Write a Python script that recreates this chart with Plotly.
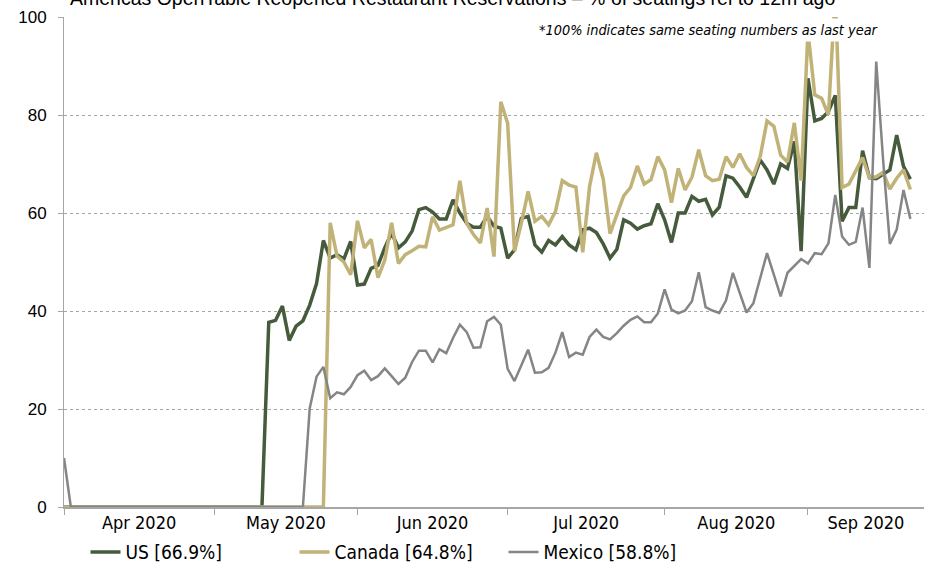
import pandas as pd
import plotly.graph_objects as go

# OpenTable seated diners vs same day last year, weekdays only (%)
START = "2020-04-01"

us = [0] * 30 + [
    37.7, 38.1, 41.0, 34.0, 36.9, 38.0, 41.2, 45.6, 54.4, 50.8,
    51.5, 50.6, 54.2, 45.3, 45.5, 48.7, 49.3, 52.9, 55.9, 52.9,
    54.1, 56.3, 60.7, 61.1, 60.2, 58.8, 58.8, 62.7, 60.0, 57.9,
    57.1, 57.1, 59.3, 57.3, 56.9, 50.8, 52.5, 58.9, 59.3, 53.5,
    52.0, 54.4, 53.5, 55.2, 53.5, 52.5, 56.6, 56.9, 56.0, 53.7,
    50.8, 52.6, 58.6, 57.9, 56.7, 57.4, 57.8, 61.9, 58.6, 54.0,
    60.0, 60.0, 63.4, 62.4, 62.8, 59.6, 61.2, 67.6, 67.1, 65.3,
    63.2, 66.8, 70.8, 68.8, 65.9, 70.0, 69.1, 74.6, 52.2, 87.5,
    78.8, 79.3, 80.7, 84.0, 58.3, 61.1, 61.1, 72.7, 67.2, 67.0,
    67.9, 68.8, 75.9, 69.5, 66.9,
]
canada = [0] * 39 + [
    58.0, 51.2, 50.0, 47.4, 58.4, 52.9, 54.6, 46.8, 50.4, 58.0,
    49.7, 51.5, 52.3, 53.2, 53.1, 59.2, 56.5, 57.1, 57.6, 66.6,
    57.9, 55.6, 53.9, 61.0, 51.1, 82.7, 78.3, 52.2, 57.9, 64.4,
    58.3, 59.3, 57.6, 60.3, 66.6, 65.7, 65.3, 52.0, 65.4, 72.3,
    66.9, 55.8, 59.6, 63.5, 65.2, 69.6, 65.9, 66.8, 71.5, 68.8,
    62.1, 69.1, 64.7, 67.3, 72.9, 67.6, 66.6, 66.9, 71.5, 69.3,
    72.1, 69.3, 67.6, 71.5, 78.8, 77.7, 71.8, 70.4, 78.4, 66.6,
    97.0, 84.1, 83.4, 80.0, 105.0, 65.2, 65.9, 68.6, 71.3, 67.2,
    67.4, 68.3, 64.9, 67.1, 68.8, 64.8,
]
mexico = [10.0] + [0] * 35 + [
    20.1, 26.6, 28.6, 22.2, 23.4, 23.0, 24.5, 26.9, 27.8, 25.9,
    26.7, 28.3, 26.7, 25.1, 26.4, 29.6, 31.9, 31.9, 29.5, 32.2,
    31.4, 34.5, 37.2, 35.7, 32.5, 32.6, 37.9, 38.8, 37.2, 28.2,
    25.7, 28.9, 32.1, 27.4, 27.5, 28.4, 31.5, 35.7, 30.6, 31.5,
    31.1, 34.7, 36.2, 34.7, 34.2, 35.5, 37.0, 38.2, 38.9, 37.7,
    37.7, 39.5, 44.4, 40.3, 39.5, 40.1, 42.0, 47.9, 40.8, 40.1,
    39.6, 42.2, 47.8, 43.7, 39.7, 41.6, 46.7, 51.8, 47.4, 43.0,
    47.8, 49.1, 50.6, 49.7, 51.8, 51.6, 53.8, 63.7, 55.2, 53.5,
    54.1, 61.1, 48.8, 90.9, 71.0, 53.7, 56.6, 64.7, 58.8,
]

series = [
    ("US", us, "#465a3c", 3.5),
    ("Canada", canada, "#c1b278", 3.5),
    ("Mexico", mexico, "#858585", 2.5),
]

TITLE = "Americas OpenTable Reopened Restaurant Reservations – % of seatings rel to 12m ago"
NOTE = "*100% indicates same seating numbers as last year"

# the axis runs two business days past the last reading
slots = pd.bdate_range(START, periods=len(us) + 2)
dates = slots[:len(us)]


def slot_pos(k):
    i = int(k)
    return slots[i] + pd.Timedelta(hours=24 * (k - i))


bounds = [i for i in range(len(dates)) if i == 0 or dates[i].month != dates[i - 1].month]
edges = bounds + [len(slots) - 1]
label_pos = [slot_pos((a + b) / 2) for a, b in zip(edges[:-1], edges[1:])]
label_txt = [dates[a].strftime("%b %Y") for a in bounds]

fig = go.Figure()
for name, vals, color, width in series:
    fig.add_trace(go.Scatter(
        x=dates, y=vals,
        name=f"{name} [{vals[-1]:.1f}%]",
        mode="lines",
        line=dict(color=color, width=width),
    ))

fig.add_annotation(
    text=TITLE, xref="paper", yref="paper", x=0.005, y=1.039,
    xanchor="left", yanchor="middle", showarrow=False,
    font=dict(family="Liberation Sans, Arial", size=19.5, color="#000000"),
)
fig.add_annotation(
    text=f"<i>{NOTE}</i>", xref="paper", yref="paper", x=0.951, y=0.9725,
    xanchor="right", yanchor="middle", showarrow=False,
    bgcolor="#ffffff", borderpad=3,
    font=dict(family="DejaVu Sans Condensed, DejaVu Sans", size=14.4, color="#000000"),
)

fig.update_xaxes(
    type="date",
    range=[slots[0], slots[-1]],
    rangebreaks=[dict(bounds=["sat", "mon"])],
    tickmode="array", tickvals=label_pos, ticktext=label_txt,
    ticks="", showgrid=False, zeroline=False,
    showline=True, linecolor="#a6a6a6", linewidth=2,
    tickfont=dict(family="DejaVu Sans Condensed, DejaVu Sans", size=18, color="#000000"),
    ticklabelstandoff=-2,
    minor=dict(tickmode="array", tickvals=[slots[i] for i in bounds],
               ticks="outside", ticklen=6, tickwidth=1, tickcolor="#a6a6a6", showgrid=False),
)
fig.update_yaxes(
    range=[0, 100], dtick=20,
    showgrid=True, gridcolor="#a6a6a6", griddash="dot", gridwidth=1,
    zeroline=False,
    showline=True, linecolor="#a6a6a6", linewidth=1,
    ticks="outside", ticklen=5, tickcolor="#a6a6a6",
    ticklabelstandoff=8,
    tickfont=dict(family="Liberation Sans, Arial", size=17, color="#000000"),
)

fig.update_layout(
    width=932, height=568,
    paper_bgcolor="#ffffff", plot_bgcolor="#ffffff",
    margin=dict(l=64, r=8, t=17, b=61, autoexpand=False),
    showlegend=True,
    legend=dict(
        orientation="h", x=0.025, xanchor="left",
        yref="container", y=0.028, yanchor="middle",
        font=dict(family="DejaVu Sans Condensed, DejaVu Sans", size=19, color="#000000"),
        entrywidth=164, entrywidthmode="pixels",
        bgcolor="rgba(0,0,0,0)",
    ),
    hovermode="x unified",
)

# drop the page's default body margin so the figure sits at the window's corner
fig.write_html(
    "out.html",
    config={"displayModeBar": False},
    post_script="document.body.style.margin = '0';",
)
